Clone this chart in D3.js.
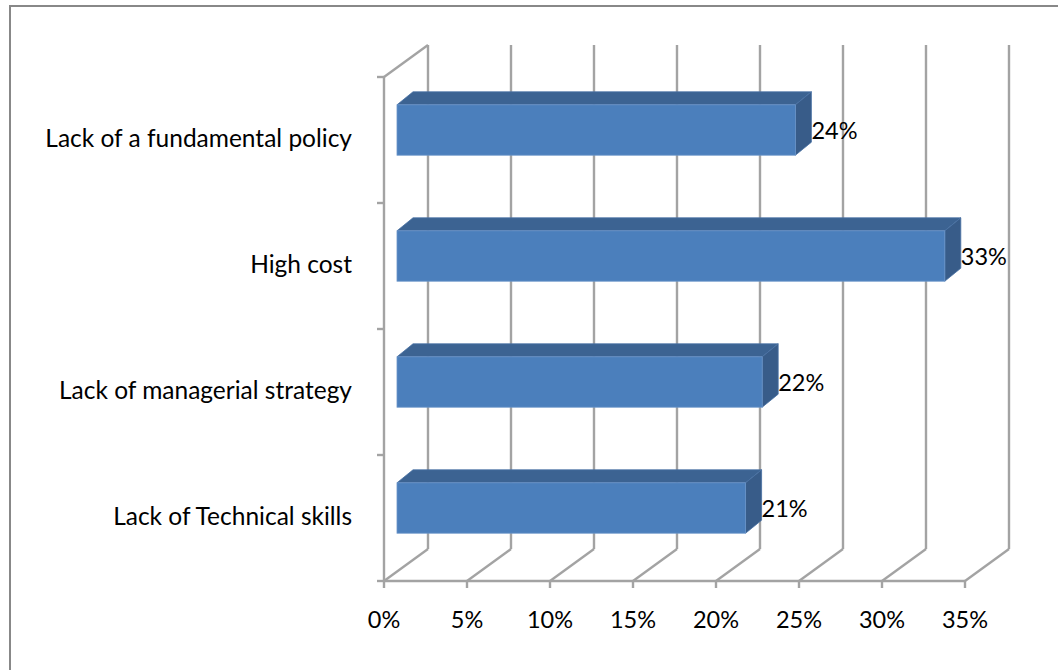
<!DOCTYPE html>
<html>
<head>
<meta charset="utf-8">
<script src="https://cdn.jsdelivr.net/npm/d3@7"></script>
<style>
  html, body { margin: 0; padding: 0; background: #fff; }
  svg { display: block; }
  text { font-family: Lato, "Open Sans", sans-serif; fill: #000; }
</style>
</head>
<body>
<script>
// Barriers shown as 3-D horizontal bars
const categories = [
  "Lack of a fundamental policy",
  "High cost",
  "Lack of managerial strategy",
  "Lack of Technical skills"
];
const values = [24, 33, 22, 21];            // percent
const valueLabels = ["24%", "33%", "22%", "21%"];
const xTicks = [0, 5, 10, 15, 20, 25, 30, 35];
const xTickLabels = ["0%", "5%", "10%", "15%", "20%", "25%", "30%", "35%"];

const W = 1058, H = 670;
const svg = d3.select("body").append("svg").attr("width", W).attr("height", H);

// outer frame
svg.append("rect")
  .attr("x", 10).attr("y", 6).attr("width", W + 10).attr("height", H + 10)
  .attr("fill", "#fff").attr("stroke", "#888").attr("stroke-width", 2);

// front plane scales
const x = d3.scaleLinear().domain([0, 35]).range([384, 965]);
const y = d3.scaleBand().domain(categories).range([77, 581])
  .paddingInner(0.6).paddingOuter(0.3);
const yEdges = d3.range(categories.length + 1).map(i => 77 + i * y.step());

// depth offsets (oblique projection)
const depth = { dx: 44, dy: -32 };
const barFront = { dx: 13, dy: -10 };
const barBack = { dx: 29, dy: -23 };

const grid = "#a3a3a3", gw = 2.4;
const g = svg.append("g");

// back wall vertical gridlines
g.selectAll("line.back").data(xTicks).join("line")
  .attr("x1", d => x(d) + depth.dx).attr("x2", d => x(d) + depth.dx)
  .attr("y1", 77 + depth.dy).attr("y2", 581 + depth.dy)
  .attr("stroke", grid).attr("stroke-width", gw);

// floor diagonals
g.selectAll("line.floor").data(xTicks).join("line")
  .attr("x1", d => x(d)).attr("x2", d => x(d) + depth.dx)
  .attr("y1", 581).attr("y2", 581 + depth.dy)
  .attr("stroke", grid).attr("stroke-width", gw);

// front floor edge + value axis ticks
g.append("line").attr("x1", x(0)).attr("x2", x(35)).attr("y1", 581).attr("y2", 581)
  .attr("stroke", grid).attr("stroke-width", gw);
g.selectAll("line.xt").data(xTicks).join("line")
  .attr("x1", d => x(d)).attr("x2", d => x(d)).attr("y1", 581).attr("y2", 588)
  .attr("stroke", grid).attr("stroke-width", gw);

// category axis: vertical edge, top diagonal, ticks
g.append("line").attr("x1", x(0)).attr("x2", x(0)).attr("y1", 77).attr("y2", 581)
  .attr("stroke", grid).attr("stroke-width", gw);
g.append("line").attr("x1", x(0)).attr("x2", x(0) + depth.dx).attr("y1", 77).attr("y2", 77 + depth.dy)
  .attr("stroke", grid).attr("stroke-width", gw);
g.selectAll("line.yt").data(yEdges).join("line")
  .attr("x1", x(0) - 7).attr("x2", x(0)).attr("y1", d => d).attr("y2", d => d)
  .attr("stroke", grid).attr("stroke-width", gw);

// bars
const bars = svg.selectAll("g.bar").data(categories).join("g");
const pt = (px, py) => px + "," + py;
bars.each(function (c, i) {
  const b = d3.select(this);
  const x0 = x(0) + barFront.dx, x1 = x(values[i]) + barFront.dx;
  const y0 = y(c) + barFront.dy, y1 = y0 + y.bandwidth();
  const ox = barBack.dx - barFront.dx, oy = barBack.dy - barFront.dy;
  // top face
  b.append("polygon")
    .attr("points", [pt(x0, y0), pt(x0 + ox, y0 + oy), pt(x1 + ox, y0 + oy), pt(x1, y0)].join(" "))
    .attr("fill", "#3c6392").attr("stroke", "#4a72a4").attr("stroke-width", 0.8);
  // side face
  b.append("polygon")
    .attr("points", [pt(x1, y0), pt(x1 + ox, y0 + oy), pt(x1 + ox, y1 + oy), pt(x1, y1)].join(" "))
    .attr("fill", "#385c89").attr("stroke", "#4a72a4").attr("stroke-width", 0.8);
  // front face
  b.append("rect")
    .attr("x", x0).attr("y", y0).attr("width", x1 - x0).attr("height", y1 - y0)
    .attr("fill", "#4b7fbc").attr("stroke", "#6a94c8").attr("stroke-width", 0.8);
  // value label
  b.append("text")
    .attr("x", x1 + ox).attr("y", (y0 + y1) / 2 + 3)
    .attr("dominant-baseline", "middle")
    .attr("font-size", 23.5)
    .text(valueLabels[i]);
});

// category labels
svg.selectAll("text.cat").data(categories).join("text")
  .attr("class", "cat")
  .attr("x", 352).attr("y", c => y(c) + y.bandwidth() / 2 + 1)
  .attr("text-anchor", "end").attr("dominant-baseline", "middle")
  .attr("font-size", 24.5)
  .text(c => c);

// value axis labels
svg.selectAll("text.xl").data(xTicks).join("text")
  .attr("class", "xl")
  .attr("x", d => x(d)).attr("y", 622)
  .attr("text-anchor", "middle").attr("dominant-baseline", "middle")
  .attr("font-size", 23.5)
  .text((d, i) => xTickLabels[i]);
</script>
</body>
</html>
